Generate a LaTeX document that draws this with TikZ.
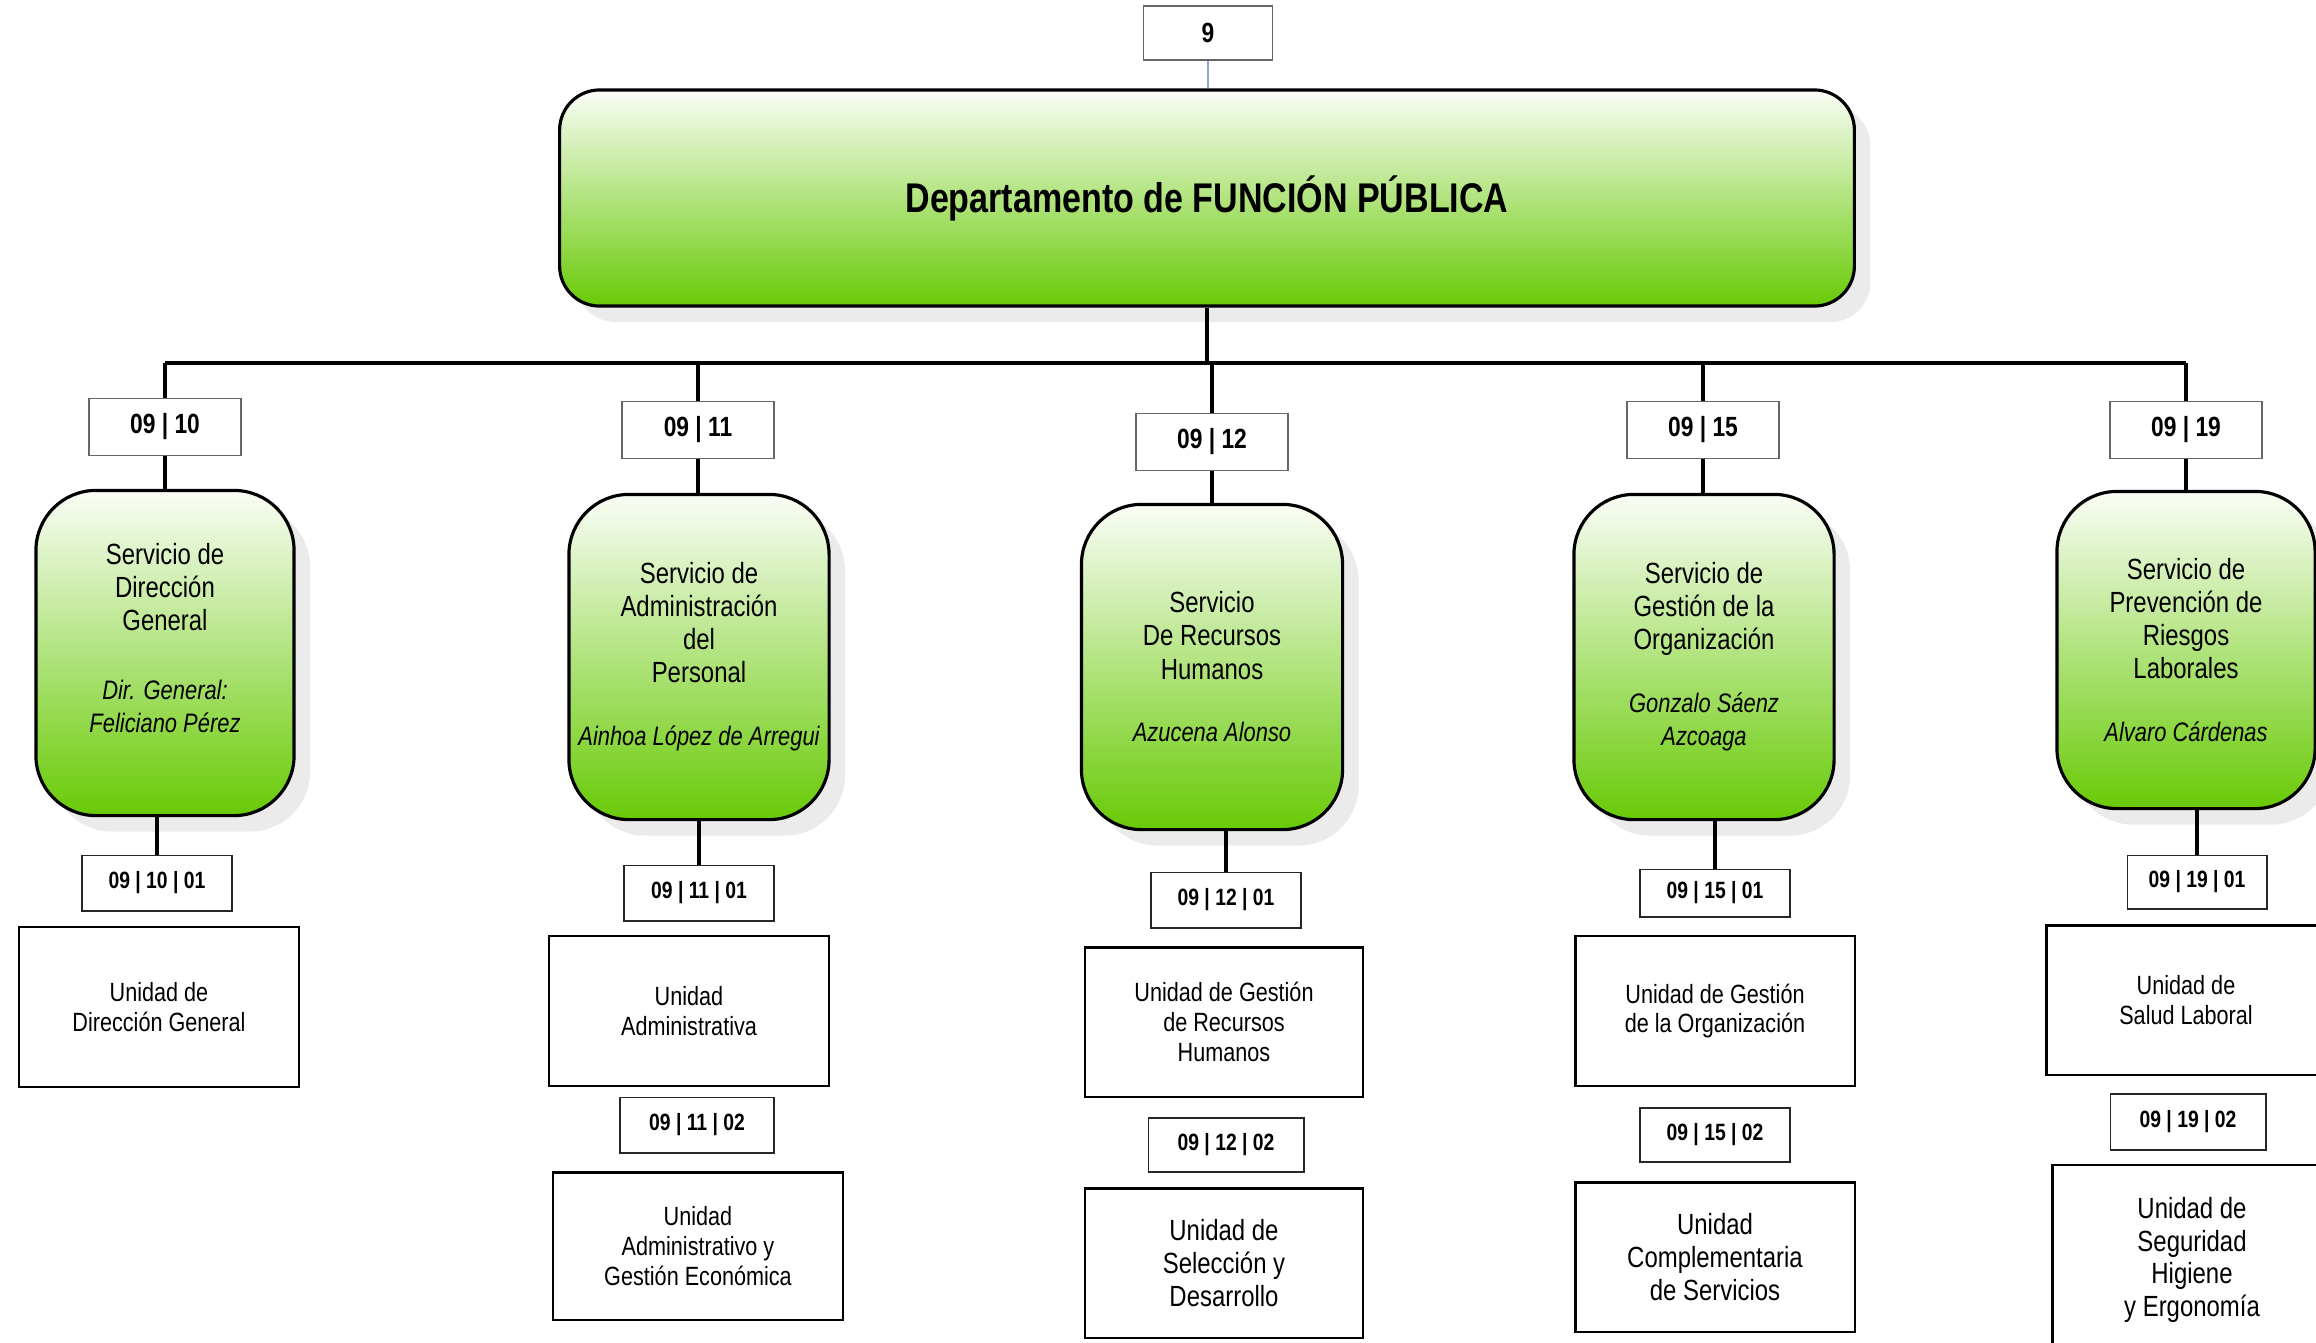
\documentclass[tikz,border=0pt]{standalone}
\usepackage{fontspec}
\setmainfont{Liberation Sans}[FakeStretch=0.82]
\usetikzlibrary{shadows}
\definecolor{orgG}{RGB}{104,202,6}
\definecolor{orgW}{RGB}{250,253,246}
\definecolor{orgS}{RGB}{235,235,235}
\definecolor{orgL}{RGB}{140,166,204}
\newcommand\who[1]{{\fontsize{7.6}{8.6}\selectfont\itshape #1}}

\tikzset{
  svc/.style={draw,line width=0.9pt,rounded corners=0.6cm,top color=orgW,bottom color=orgG,
    minimum width=2.58cm,minimum height=3.25cm,align=center,inner sep=2pt,
    font=\fontsize{8.3}{9.4}\selectfont,
    drop shadow={shadow xshift=1.6mm,shadow yshift=-1.6mm,fill=orgS,opacity=1}},
  code/.style={draw=black!60,line width=0.4pt,fill=white,minimum width=1.52cm,minimum height=0.57cm,
    font=\bfseries\fontsize{7.9}{9}\selectfont},
  subcode/.style={draw=black!85,line width=0.55pt,fill=white,minimum width=1.5cm,minimum height=0.55cm,
    font=\bfseries\fontsize{6.7}{8}\selectfont},
  unit/.style={draw,line width=0.6pt,minimum width=2.79cm,minimum height=1.5cm,align=center,
    font=\fontsize{7.5}{8.5}\selectfont},
  unitL/.style={unit,font=\fontsize{8.3}{9.3}\selectfont},
  link/.style={line width=0.95pt},
}

\begin{document}
\begin{tikzpicture}[x=0.01cm,y=-0.01cm]
\useasboundingbox (0,0) rectangle (2316,1342);
% department
\node[code,minimum width=1.29cm,minimum height=0.54cm] (top) at (1208,33) {9};
\node[svc,minimum width=12.94cm,minimum height=2.16cm,rounded corners=0.4cm,
  font=\bfseries\fontsize{11.8}{14}\selectfont] (dep) at (1207,198) {Departamento de FUNCIÓN PÚBLICA};
\draw[orgL,line width=0.5pt] (top.south) -- (top.south |- dep.north);
\coordinate (bus) at (1207,363);
\draw[link] (dep.south) -- (bus);

% services
\foreach \n/\x/\y in {10/165/427,11/698/430,12/1212/442,15/1703/430,19/2186/430}
  \node[code] (c\n) at (\x,\y) {09 | \n};
\node[svc] (s10) at (165,653) {};
\node[align=center,font=\fontsize{8.3}{9.4}\selectfont] (s10t) at (165,638)
  {Servicio de\\Dirección\\General\\[10pt]\who{Dir. General:}\\\who{Feliciano Pérez}};
\node[svc,minimum width=2.6cm] (s11) at (699,657) {Servicio de\\Administración\\del\\Personal\\[8.5pt]\who{Ainhoa López de Arregui}};
\node[svc,minimum width=2.61cm] (s12) at (1212,667) {Servicio\\De Recursos\\Humanos\\[8.5pt]\who{Azucena Alonso}};
\node[svc,minimum width=2.6cm] (s15) at (1704,657) {Servicio de\\Gestión de la\\Organización\\[8.5pt]\who{Gonzalo Sáenz}\\\who{Azcoaga}};
\node[svc,minimum height=3.17cm] (s19) at (2186,650) {Servicio de\\Prevención de\\Riesgos\\Laborales\\[8.5pt]\who{Alvaro Cárdenas}};

% units
\node[subcode] (c10a) at (157,883) {09 | 10 | 01};
\node[unit,minimum height=1.6cm] (u10a) at (159,1007) {Unidad de\\Dirección General};

\node[subcode] (c11a) at (699,893) {09 | 11 | 01};
\node[unit,minimum width=2.8cm] (u11a) at (689,1011) {Unidad\\Administrativa};
\node[subcode,minimum width=1.54cm] (c11b) at (697,1125) {09 | 11 | 02};
\node[unit,minimum width=2.89cm,minimum height=1.47cm] (u11b) at (698,1246) {Unidad\\Administrativo y\\Gestión Económica};

\node[subcode] (c12a) at (1226,900) {09 | 12 | 01};
\node[unit,minimum width=2.78cm,minimum height=1.49cm] (u12a) at (1224,1022) {Unidad de Gestión\\de Recursos\\Humanos};
\node[subcode,minimum width=1.55cm,minimum height=0.54cm] (c12b) at (1226,1145) {09 | 12 | 02};
\node[unitL,minimum width=2.78cm,minimum height=1.49cm] (u12b) at (1224,1263) {Unidad de\\Selección y\\Desarrollo};

\node[subcode,minimum height=0.47cm] (c15a) at (1715,893) {09 | 15 | 01};
\node[unit] (u15a) at (1715,1011) {Unidad de Gestión\\de la Organización};
\node[subcode,minimum height=0.54cm] (c15b) at (1715,1135) {09 | 15 | 02};
\node[unitL,minimum height=1.49cm] (u15b) at (1715,1257) {Unidad\\Complementaria\\de Servicios};

\node[subcode,minimum width=1.39cm,minimum height=0.53cm] (c19a) at (2197,882) {09 | 19 | 01};
\node[unit,minimum height=1.49cm] (u19a) at (2186,1000) {Unidad de\\Salud Laboral};
\node[subcode,minimum width=1.55cm,minimum height=0.56cm] (c19b) at (2188,1122) {09 | 19 | 02};
\node[unitL,minimum height=1.9cm] (u19b) at (2192,1260) {Unidad de\\Seguridad\\Higiene\\y Ergonomía};

% connectors
\draw[link] (c10.north |- bus) -- (c19.north |- bus);
\foreach \n in {10,11,12,15,19} {
  \draw[link] (c\n.north) -- (c\n.north |- bus);
  \draw[link] (c\n.south) -- (s\n.north -| c\n.south);
  \draw[link] (c\n a.north) -- (s\n.south -| c\n a.north);
}
\end{tikzpicture}
\end{document}
